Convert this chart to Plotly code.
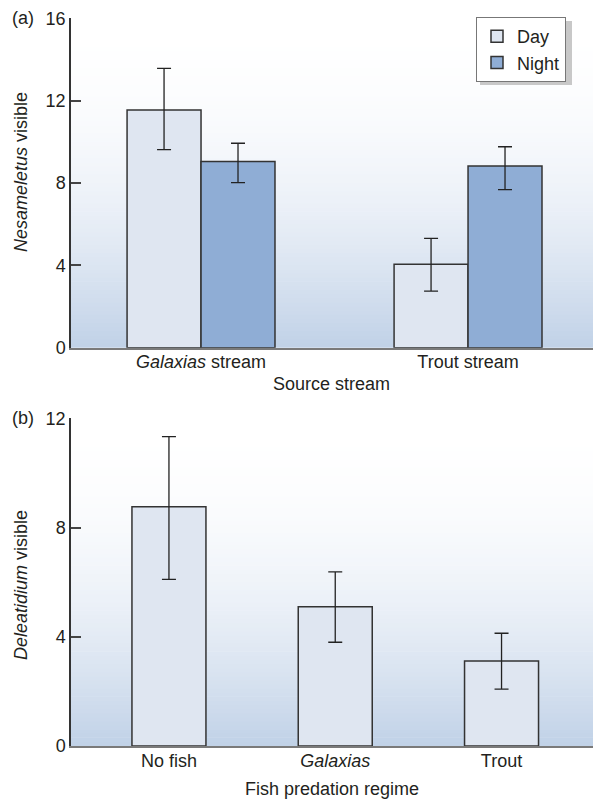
import plotly.graph_objects as go

# ---- data ----
streams = ["<i>Galaxias</i> stream", "Trout stream"]
day_vals = [11.55, 4.05]
day_err_up = [2.02, 1.26]
day_err_dn = [1.93, 1.30]
night_vals = [9.05, 8.82]
night_err_up = [0.88, 0.94]
night_err_dn = [1.03, 1.14]

regimes = ["No fish", "<i>Galaxias</i>", "Trout"]
del_vals = [8.76, 5.10, 3.11]
del_err_up = [2.57, 1.28, 1.02]
del_err_dn = [2.66, 1.30, 1.03]

a_ticks = [0, 4, 8, 12, 16]
b_ticks = [0, 4, 8, 12]

W, H = 593, 801
FONT = "Liberation Sans, Arial, Helvetica, sans-serif"
FS = 18
TXT = "#231f20"
DAY_C = "#dfe6f1"
NIGHT_C = "#8fadd5"
EDGE = "#333333"

# empirical correction for the capture's vertical placement
V_OFF, V_SCALE = 10.0, 0.975

def px_x(p):
    return p / W

def px_y(p):
    d = (p - V_OFF) / V_SCALE
    return 1 - d / H

fig = go.Figure()

err_style = dict(color="#222222", thickness=1.3, width=7)

fig.add_trace(go.Bar(
    x=streams, y=day_vals, name="Day", xaxis="x", yaxis="y",
    marker=dict(color=DAY_C, line=dict(color=EDGE, width=1.5)),
    error_y=dict(type="data", symmetric=False, array=day_err_up, arrayminus=day_err_dn, **err_style),
))
fig.add_trace(go.Bar(
    x=streams, y=night_vals, name="Night", xaxis="x", yaxis="y",
    marker=dict(color=NIGHT_C, line=dict(color=EDGE, width=1.5)),
    error_y=dict(type="data", symmetric=False, array=night_err_up, arrayminus=night_err_dn, **err_style),
))
fig.add_trace(go.Bar(
    x=regimes, y=del_vals, name="Deleatidium", xaxis="x2", yaxis="y2", showlegend=False,
    width=0.445,
    marker=dict(color=DAY_C, line=dict(color=EDGE, width=1.5)),
    error_y=dict(type="data", symmetric=False, array=del_err_up, arrayminus=del_err_dn, **err_style),
))

# gradient backgrounds as stacked stripes
def gradient(xref, yref, n=80, bottom=(192, 209, 231)):
    shapes = []
    for i in range(n):
        t0 = i / n
        t1 = (i + 1) / n
        tm = 1 - (t0 + t1) / 2  # 0 at top, 1 at bottom
        a = tm ** 2.0
        r = round(255 - a * (255 - bottom[0]))
        g = round(255 - a * (255 - bottom[1]))
        b = round(255 - a * (255 - bottom[2]))
        shapes.append(dict(type="rect", xref=xref, yref=yref, x0=0, x1=1, y0=t0, y1=t1 + 0.002,
                           fillcolor=f"rgb({r},{g},{b})", line=dict(width=0), layer="below"))
    return shapes

shapes = gradient("x domain", "y domain") + gradient("x2 domain", "y2 domain")
# legend shadow
shapes.append(dict(type="rect", xref="paper", yref="paper",
                   x0=px_x(480), x1=px_x(572), y0=px_y(85), y1=px_y(21),
                   fillcolor="#c8c8c8", line=dict(width=0), layer="above"))

xdom = [px_x(71), 1.0]
yaxis_common = dict(
    showgrid=False, zeroline=False, showline=True, linecolor=EDGE, linewidth=1.5,
    ticks="inside", ticklen=10, tickwidth=1.5, tickcolor="#444444",
    tickfont=dict(family=FONT, size=FS, color=TXT),
)
xaxis_common = dict(
    showgrid=False, zeroline=False, showline=True, linecolor="#7a7a7a", linewidth=2,
    ticks="", tickfont=dict(family=FONT, size=FS, color=TXT), type="category",
    ticklabelstandoff=-3,
)

fig.update_layout(
    width=W, height=H, autosize=False,
    margin=dict(l=0, r=0, t=0, b=0),
    paper_bgcolor="white", plot_bgcolor="white",
    barmode="group", bargap=0.446, bargroupgap=0,
    font=dict(family=FONT, size=FS, color=TXT),
    xaxis=dict(domain=xdom, anchor="y", range=[-0.487, 1.468], **xaxis_common),
    yaxis=dict(domain=[px_y(347.7), px_y(18.3)], anchor="x", range=[0, 16],
               tickvals=a_ticks, **yaxis_common),
    xaxis2=dict(domain=xdom, anchor="y2", range=[-0.589, 2.55], **xaxis_common),
    yaxis2=dict(domain=[px_y(746), px_y(418.3)], anchor="x2", range=[0, 12],
                tickvals=b_ticks, **yaxis_common),
    legend=dict(x=px_x(476), y=px_y(17), xanchor="left", yanchor="top",
                bgcolor="white", bordercolor="#777777", borderwidth=1,
                font=dict(family=FONT, size=FS, color=TXT), tracegroupgap=0),
    shapes=shapes,
    annotations=[
        dict(text="(a)", x=px_x(23), y=px_y(18), xref="paper", yref="paper",
             showarrow=False, xanchor="center", yanchor="middle", font=dict(size=FS)),
        dict(text="(b)", x=px_x(23), y=px_y(418), xref="paper", yref="paper",
             showarrow=False, xanchor="center", yanchor="middle", font=dict(size=FS)),
        dict(text="<i>Nesameletus</i> visible", textangle=-90, x=px_x(21), y=px_y(172),
             xref="paper", yref="paper", showarrow=False, xanchor="center", yanchor="middle",
             font=dict(size=FS)),
        dict(text="<i>Deleatidium</i> visible", textangle=-90, x=px_x(21), y=px_y(585),
             xref="paper", yref="paper", showarrow=False, xanchor="center", yanchor="middle",
             font=dict(size=FS)),
        dict(text="Source stream", x=px_x(332), y=px_y(384), xref="paper", yref="paper",
             showarrow=False, xanchor="center", yanchor="middle", font=dict(size=FS)),
        dict(text="Fish predation regime", x=px_x(332), y=px_y(789), xref="paper", yref="paper",
             showarrow=False, xanchor="center", yanchor="middle", font=dict(size=FS)),
    ],
)

fig.write_html(
    "out.html",
    config={"displayModeBar": False},
    post_script=(
        "document.documentElement.style.margin='0';"
        "document.body.style.margin='0';"
        "document.body.style.overflow='hidden';"
    ),
)
